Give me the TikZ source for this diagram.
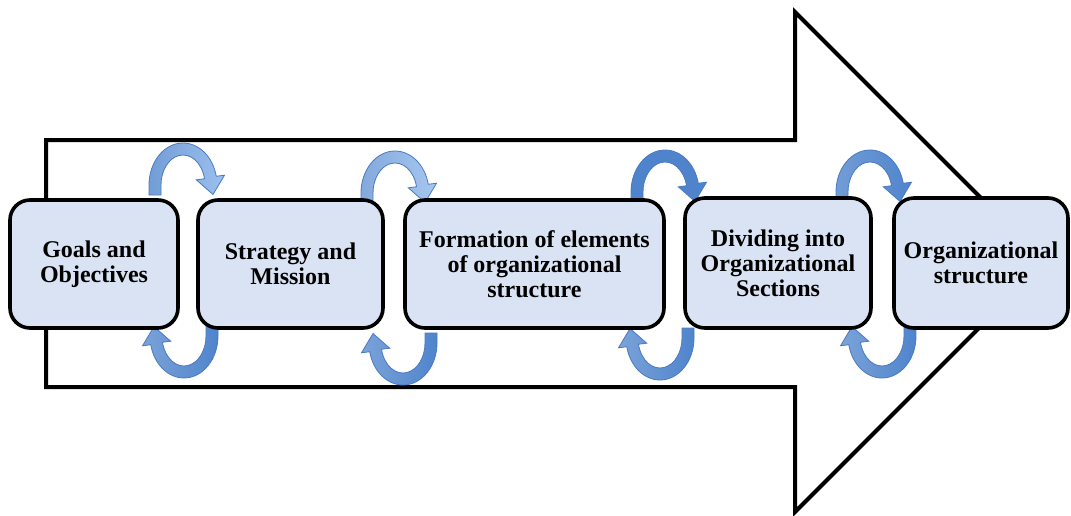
\documentclass[tikz,border=0pt]{standalone}
\usepackage{fontspec}
\setmainfont{Liberation Serif}
\usetikzlibrary{calc}
\definecolor{boxfill}{HTML}{DAE3F3}
\definecolor{loopedge}{HTML}{4A7BC0}
\definecolor{loopdark}{HTML}{4F84CC}
\definecolor{looplight}{HTML}{9CC0EE}
\tikzset{
  stagebox/.style={draw=black, line width=2.7pt, rounded corners=15pt,
    fill=boxfill, align=center, inner sep=2pt,
    font=\fontsize{18}{18.75}\selectfont\bfseries},
  flowarrow/.style={draw=black, line width=3pt, fill=white, line join=miter},
  pics/loop/.style={code={
    \path[draw=loopedge, line width=0.6pt, #1]
      (-34,-10) -- (-34,0)
      arc[start angle=180, end angle=12, x radius=34, y radius=42]
      -- (41.5,9.8) -- (30,-9.5) -- (13.3,5.2) -- (21.52,6.24)
      arc[start angle=12, end angle=180, x radius=22, y radius=30]
      -- (-22,-10) -- cycle;
  }}
}
\begin{document}
\begin{tikzpicture}[x=0.75pt, y=-0.75pt]
\useasboundingbox (0,0) rectangle (1071,515);

% large process arrow in the background
\path[flowarrow] (46,140) -- (795,140) -- (795,12) -- (1045,262)
  -- (795,512) -- (795,387) -- (46,387) -- cycle;

% feedback loops above the stages (clockwise, pointing down)
\pic[yscale=-1] at (183,185) {loop={left color=loopdark!80, right color=looplight}};
\pic[yscale=-1] at (395,193) {loop={left color=loopdark!70, right color=looplight!90}};
\pic[yscale=-1] at (665,192) {loop={left color=loopdark!100!black, right color=loopdark}};
\pic[yscale=-1] at (870,192) {loop={left color=loopdark!80, right color=loopdark}};

% feedback loops below the stages (pointing up)
\pic[xscale=-1] at (184,336) {loop={left color=loopdark!75, right color=loopdark}};
\pic[xscale=-1] at (403,343) {loop={left color=loopdark!75, right color=loopdark}};
\pic[xscale=-1] at (660,338) {loop={left color=loopdark!75, right color=loopdark}};
\pic[xscale=-1] at (882,336) {loop={left color=loopdark!75, right color=loopdark}};

% stages
\node[stagebox, minimum width=126pt, minimum height=96pt] (goals) at (94,264)
  {Goals and\\Objectives};
\node[stagebox, minimum width=138.75pt, minimum height=96pt] (strategy) at (290.5,264)
  {Strategy and\\Mission};
\node[stagebox, minimum width=194.25pt, minimum height=96pt] (formation) at (534.5,264)
  {Formation of elements\\of organizational\\structure};
\node[stagebox, minimum width=139.5pt, minimum height=97.5pt] (dividing) at (778,263)
  {Dividing into\\Organizational\\Sections};
\node[stagebox, minimum width=130.5pt, minimum height=97.5pt] (structure) at (981,263)
  {Organizational\\structure};
\end{tikzpicture}
\end{document}
